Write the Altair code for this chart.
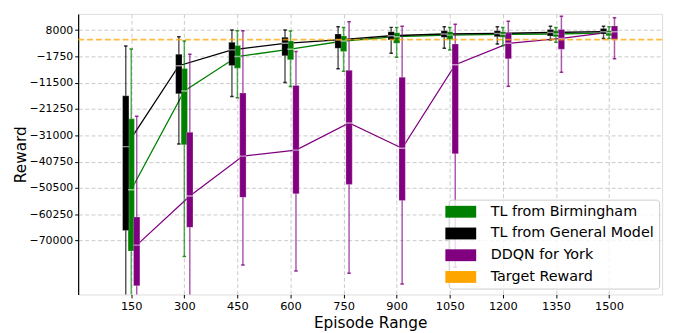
import altair as alt
import pandas as pd

episodes = [150, 300, 450, 600, 750, 900, 1050, 1200, 1350, 1500]
series_names = ["TL from Birmingham", "TL from General Model", "DDQN for York"]
target_label = "Target Reward"
target_reward = 4500
y_ticks = [8000, -1750, -11500, -21250, -31000, -40750, -50500, -60250, -70000]

# TL from General Model (black)
gen_high = [2100, 5500, 8000, 8000, 9200, 9000, 9200, 9200, 9450, 9450]
gen_q3 = [-16350, -950, 3450, 5300, 6550, 7400, 7750, 7750, 8200, 8600]
gen_med = [-35200, -5200, 650, 3100, 4350, 5900, 6550, 6750, 7100, 7400]
gen_q1 = [-66300, -15600, -5100, -1550, 1250, 4350, 5300, 5550, 5800, 6550]
gen_low = [-95000, -34200, -16600, -11450, -6300, -600, 1250, 2850, 4350, 4900]

# TL from Birmingham (green)
bir_high = [1000, 3950, 7750, 7650, 8950, 8950, 8950, 8950, 8950, 9200]
bir_q3 = [-24900, -6200, 2250, 3950, 5800, 7000, 7400, 7400, 7750, 7750]
bir_med = [-51200, -14600, -1800, 900, 3950, 5550, 6150, 6400, 6550, 7000]
bir_q1 = [-73900, -34500, -6100, -3000, 50, 3100, 4550, 5300, 5550, 5900]
bir_low = [-95000, -75900, -17100, -12900, -7300, -2050, 650, 2150, 3450, 4900]

# DDQN for York (purple)
ddq_high = [-23900, -950, 7750, 50, 11050, 9450, 10200, 11300, 13100, 12600]
ddq_q3 = [-61300, -29900, -15350, -12550, -6900, -9500, 2850, 7000, 8200, 9550]
ddq_med = [-71700, -53500, -38700, -36500, -26450, -35800, -4850, 3100, 4900, 7400]
ddq_q1 = [-86750, -65100, -54000, -52650, -49200, -55200, -37850, -2650, 900, 4550]
ddq_low = [-95000, -95000, -79050, -81250, -82100, -86150, -79900, -12800, -7650, -2650]

stats = {
    "TL from Birmingham": (bir_high, bir_q3, bir_med, bir_q1, bir_low),
    "TL from General Model": (gen_high, gen_q3, gen_med, gen_q1, gen_low),
    "DDQN for York": (ddq_high, ddq_q3, ddq_med, ddq_q1, ddq_low),
}

rows = []
for name in series_names:
    hi, q3, med, q1, lo = stats[name]
    for i, ep in enumerate(episodes):
        rows.append({"series": name, "episode": ep, "high": hi[i], "q3": q3[i],
                     "median": med[i], "q1": q1[i], "low": lo[i]})
df = pd.DataFrame(rows)

color_domain = series_names + [target_label]
color_range = ["#008000", "#000000", "#800080", "#FFA500"]
color_map = dict(zip(color_domain, color_range))
# legend (fill) scale in legend order
fill_scale = alt.Scale(domain=color_domain, range=color_range)
# line/whisker scale: same colours, different domain order so that it gets no legend of its own
line_domain = list(reversed(color_domain))
line_scale = alt.Scale(domain=line_domain, range=[color_map[d] for d in line_domain])

font = "DejaVu Sans"

base = alt.Chart(df).transform_calculate(
    xc="datum.episode + (datum.series == 'TL from General Model' ? -15.5 : (datum.series == 'DDQN for York' ? 15.5 : 0))"
).transform_calculate(
    bl="datum.xc - 9", br="datum.xc + 9", cl="datum.xc - 5", cr="datum.xc + 5"
)

x_scale = alt.Scale(domain=[0, 1650], nice=False, zero=False)
y_scale = alt.Scale(domain=[-90000, 14000], nice=False, zero=False)

x_axis = alt.Axis(values=episodes, tickCount=30, format="d", title="Episode Range", grid=True,
                  gridDash=[4, 2.5], gridColor="#c4c4c4", gridWidth=0.9, labelFontSize=11.5,
                  titleFontSize=15.5, tickSize=3.5, tickColor="#000000", domain=False,
                  labelFont=font, titleFont=font, labelColor="#000000", titleColor="#000000",
                  titleFontWeight="normal", labelPadding=3, titlePadding=3, labelOverlap=False)
y_axis = alt.Axis(values=y_ticks, tickCount=30, format="d", title="Reward", grid=True,
                  gridDash=[4, 2.5], gridColor="#c4c4c4", gridWidth=0.9, labelFontSize=11,
                  titleFontSize=15.5, tickSize=3.5, tickColor="#000000", domainColor="#000000",
                  domainWidth=1.2, labelFont=font, titleFont=font, labelColor="#000000",
                  titleColor="#000000", titleFontWeight="normal", labelPadding=2, titlePadding=1,
                  labelOverlap=False)

line_color = alt.Color("series:N", scale=line_scale, legend=None)

# connecting median lines (drawn beneath boxes)
lines = base.mark_line(strokeWidth=1.3, clip=True).encode(
    x=alt.X("xc:Q", scale=x_scale, axis=x_axis),
    y=alt.Y("median:Q", scale=y_scale, axis=y_axis),
    color=line_color,
    detail="series:N",
    order="episode:Q",
)

whiskers = base.mark_rule(strokeWidth=1.5, opacity=0.65, clip=True).encode(
    x="xc:Q", y="low:Q", y2="high:Q", color=line_color,
)
caps_hi = base.mark_rule(strokeWidth=1.5, opacity=0.8, clip=True).encode(
    x="cl:Q", x2="cr:Q", y="high:Q", color=line_color,
)
caps_lo = base.mark_rule(strokeWidth=1.5, opacity=0.8, clip=True).encode(
    x="cl:Q", x2="cr:Q", y="low:Q", color=line_color,
)

boxes = base.mark_rect(stroke="#ffffff", strokeWidth=0.8, strokeOpacity=0.3, clip=True).encode(
    x="bl:Q", x2="br:Q", y="q1:Q", y2="q3:Q",
    fill=alt.Fill("series:N", scale=fill_scale, title=None,
                  legend=alt.Legend(orient="none", legendX=375, legendY=188,
                                    symbolType="M-2.6,-1H2.6V1H-2.6Z", symbolSize=144,
                                    symbolOpacity=1, symbolStrokeWidth=0,
                                    labelFontSize=14.5, labelFont=font, labelColor="#000000",
                                    labelLimit=0, labelOffset=23, rowPadding=7, padding=5,
                                    fillColor="rgba(255,255,255,0.8)", strokeColor="#cccccc",
                                    cornerRadius=3, values=color_domain)),
)

medians = base.mark_rule(strokeWidth=1.4, color="#ffffff", opacity=0.55, clip=True).encode(
    x="bl:Q", x2="br:Q", y="median:Q",
)

target = alt.Chart(pd.DataFrame({"t": [target_reward]})).mark_rule(
    strokeDash=[6, 3], strokeWidth=1.8, opacity=0.75
).encode(
    y=alt.Y("t:Q", axis=y_axis),
    color=line_color,
).transform_calculate(series="'" + target_label + "'")

chart = alt.layer(lines, whiskers, caps_hi, caps_lo, boxes, medians, target).properties(
    width=591, height=284,
    autosize=alt.AutoSizeParams(type="none"),
    padding={"left": 71, "top": 4, "right": 8, "bottom": 37},
).configure_view(stroke="#808080", strokeWidth=2).configure(background="#ffffff")

chart.save("out.html", embed_options={"renderer": "svg", "actions": False})
